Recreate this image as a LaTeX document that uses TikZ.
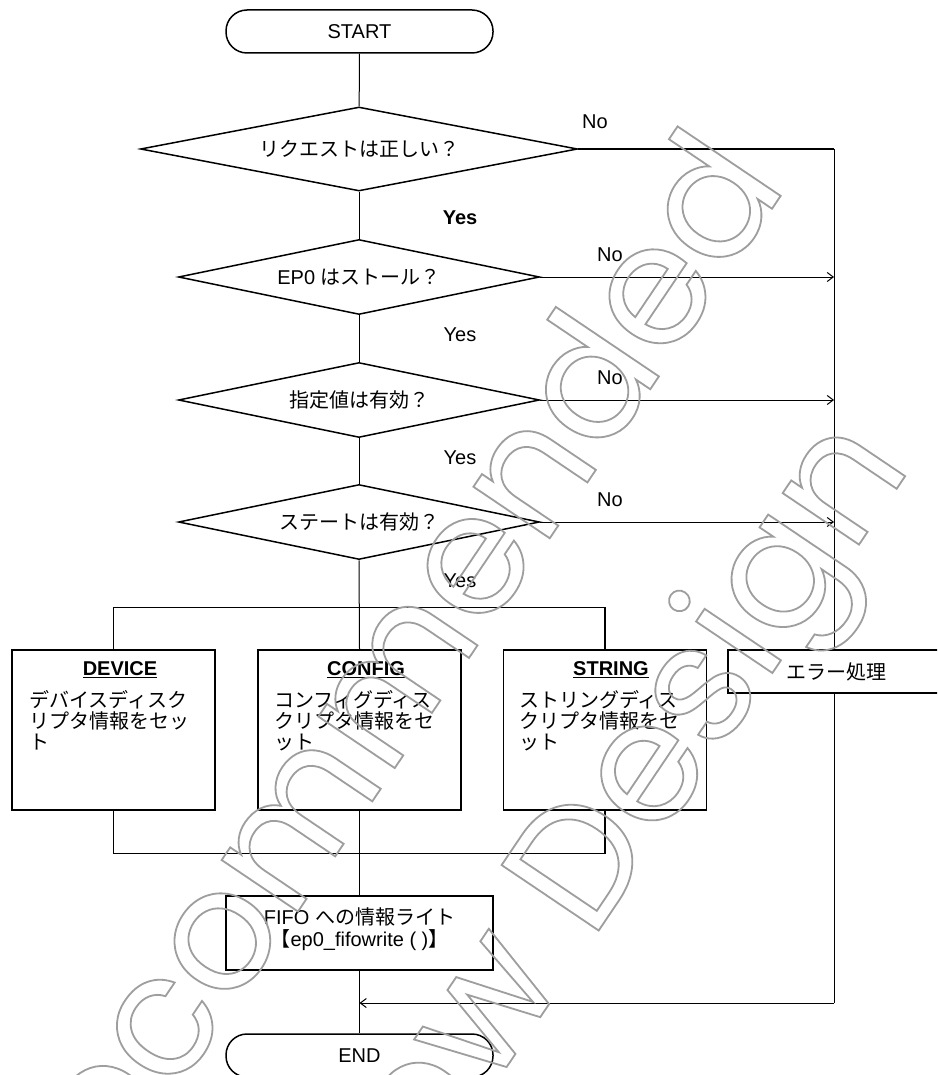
\documentclass[tikz,border=0pt]{standalone}
\usepackage{fontspec}
\setmainfont{Liberation Sans}
\newfontfamily\jpf{Noto Sans CJK JP}
\newfontfamily\wmfont{Poppins}
\usetikzlibrary{shapes.geometric,arrows.meta,calc}
\newcommand\jp[1]{{\jpf #1}}
\newcommand\outlinetext[1]{{\color[gray]{0.62}\special{pdf:code 1 Tr 1.8 w}#1\special{pdf:code 0 Tr}}}
\begin{document}
\begin{tikzpicture}[x=1pt,y=-1pt,
  font=\fontsize{20}{24}\selectfont,
  dia/.style={shape=diamond, draw, line width=1.5pt, inner sep=0pt,
    minimum width=361pt, minimum height=75pt, aspect=4.8},
  term/.style={rectangle, rounded corners=21pt, draw, line width=1.5pt,
    minimum width=267pt, minimum height=43pt},
  procbox/.style={rectangle, draw, line width=1.5pt, minimum width=203pt, minimum height=160pt},
  con/.style={line width=1pt},
  arr/.style={con, -{Straight Barb[length=6pt,width=9pt]}},
  lbl/.style={inner sep=0pt},
  ttl/.style={inner sep=0pt, font=\fontsize{20}{24}\selectfont\bfseries},
  body/.style={align=left, anchor=north west, inner sep=0pt, font=\fontsize{20}{21}\selectfont},
  wm/.style={rotate=56, anchor=base east, inner sep=0pt, font=\wmfont\fontsize{168}{200}\selectfont}
]
\useasboundingbox (0,0) rectangle (937,1075);
\clip (0,0) rectangle (937,1075);
\fill[white] (0,0) rectangle (937,1075);

% terminals and decisions
\node[term] (start) at (359.5,31.5) {START};
\node[dia, minimum width=437pt, minimum height=84pt, aspect=5.2] (d1) at (359,149) {\jp{リクエストは正しい？}};
\node[dia] (d2) at (359,277) {EP0 \jp{はストール？}};
\node[dia] (d3) at (359,400) {\jp{指定値は有効？}};
\node[dia] (d4) at (359,522) {\jp{ステートは有効？}};

% process boxes
\node[procbox] (b1) at (113.5,730) {};
\node[procbox] (b2) at (359.5,730) {};
\node[procbox] (b3) at (605,730) {};
\node[procbox, minimum width=267pt, minimum height=74pt] (fifo) at (359.5,933) {};
\node[lbl, align=center] (fifot) at (359.5,929) {FIFO \jp{への情報ライト}\\[-2pt]\jp{【}ep0\_fifowrite ( )\jp{】}};
\node[term] (end) at (359.5,1055.5) {END};

\node[ttl] (t1) at (120,670) {\underline{DEVICE}};
\node[ttl] (t2) at (366,670) {\underline{CONFIG}};
\node[ttl] (t3) at (611,670) {\underline{STRING}};
\node[body] (x1) at (29,690) {\jp{デバイスディスク}\\\jp{リプタ情報をセッ}\\\jp{ト}};
\node[body] (x2) at (274,690) {\jp{コンフィグディス}\\\jp{クリプタ情報をセ}\\\jp{ット}};
\node[body] (x3) at (519,690) {\jp{ストリングディス}\\\jp{クリプタ情報をセ}\\\jp{ット}};

% coordinates
\coordinate (r1) at (834,149);
\coordinate (r2) at (834,277);
\coordinate (r3) at (834,400);
\coordinate (r4) at (834,522);
\coordinate (rb) at (834,1003);
\coordinate (mj) at (359.5,1003);

% main flow
\draw[con] (start) -- (d1);
\draw[con] (d1) -- (d2);
\draw[con] (d2) -- (d3);
\draw[con] (d3) -- (d4);
\draw[con] (d4.south) -- (b2.north);
\draw[line width=1.3pt] (b1.north) -- ++(0,-42) -| (b3.north);
\draw[line width=1.3pt] (b1.south) -- ++(0,43) -| (b3.south);
\draw[con] (b2.south) -- (fifo.north);
\draw[con] (fifo.south) -- (end.north);

% No branches
\draw[line width=1.5pt] (d1.east) -- (r1);
\draw[con] (r1) -- (rb);
\draw[arr] (rb) -- (mj);
\draw[arr] (d2.east) -- (r2);
\draw[arr] (d3.east) -- (r3);
\draw[arr] (d4.east) -- (r4);

\node[draw, line width=1.5pt, fill=white, minimum width=217pt, minimum height=43pt] (err) at (836.5,671.5) {\jp{エラー処理}};

% labels
\node[lbl] (n1) at (595,122) {No};
\node[lbl] (n2) at (610,255) {No};
\node[lbl] (n3) at (610,378) {No};
\node[lbl] (n4) at (610,500) {No};
\node[lbl, font=\fontsize{20}{24}\selectfont\bfseries] (y1) at (460,218) {Yes};
\node[lbl] (y2) at (460,335) {Yes};
\node[lbl] (y3) at (460,458) {Yes};
\node[lbl] (y4) at (460,581) {Yes};

% watermark
\node[wm] (wm1) at (788,185) {\outlinetext{Recommended}};
\node[wm] (wm2) at (912,466) {\outlinetext{New Design}};
\end{tikzpicture}
\end{document}
